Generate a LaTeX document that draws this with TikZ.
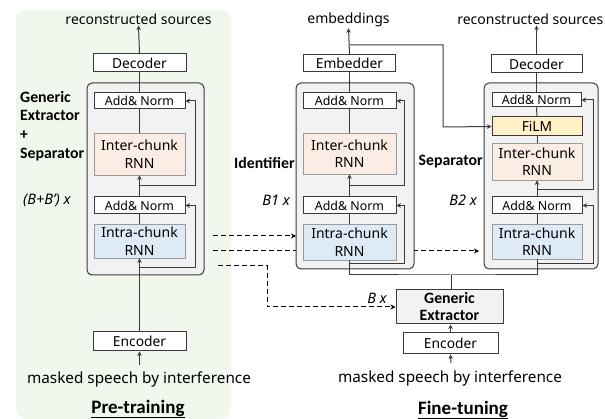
\documentclass[tikz,border=0pt]{standalone}
\usepackage{fontspec}
\setmainfont{Noto Sans}
\newfontfamily\boldfam{Carlito}
\usetikzlibrary{arrows.meta}
\definecolor{bggreen}{HTML}{F0F7EC}
\definecolor{outerfill}{HTML}{F2F2F2}
\definecolor{peach}{HTML}{FBEDE4}
\definecolor{lblue}{HTML}{DEEAF6}
\definecolor{filmy}{HTML}{FFF0C6}
\definecolor{edge}{HTML}{3A3A3A}
\definecolor{softedge}{HTML}{9A9A9A}
\tikzset{
  wbox/.style={draw=edge,fill=white,line width=1pt,inner sep=0pt,font=\fontsize{13.8}{15}\selectfont},
  anbox/.style={draw=edge,fill=white,line width=1pt,inner sep=0pt,font=\fontsize{12.4}{13}\selectfont},
  interbox/.style={draw=softedge,fill=peach,line width=0.8pt,inner sep=0pt,align=center,font=\fontsize{14}{17.5}\selectfont},
  intrabox/.style={draw=softedge,fill=lblue,line width=0.8pt,inner sep=0pt,align=center,font=\fontsize{14}{17.5}\selectfont},
  filmbox/.style={draw=edge,fill=filmy,line width=1pt,inner sep=0pt,font=\fontsize{13.8}{15}\selectfont},
  outerbox/.style={draw=edge,fill=outerfill,line width=1pt,rounded corners=5pt},
  arr/.style={-{Stealth[length=4.5pt,width=4.5pt]},line width=1pt,draw=edge},
  ln/.style={line width=1pt,draw=edge},
  darr/.style={-{Stealth[length=5pt,width=5pt]},line width=1pt,dash pattern=on 5pt off 3pt},
  toplab/.style={font=\fontsize{14}{15}\selectfont,inner sep=0pt},
  botlab/.style={font=\fontsize{15.3}{17}\selectfont,inner sep=0pt},
  blab/.style={font=\boldfam\bfseries\fontsize{15.8}{18.7}\selectfont,inner sep=0pt,align=left},
  title/.style={font=\boldfam\bfseries\fontsize{19}{21}\selectfont,inner sep=0pt},
  ilab/.style={font=\itshape\fontsize{14.5}{16}\selectfont,inner sep=0pt},
}
\begin{document}
\begin{tikzpicture}[x=1pt,y=-1pt]
\useasboundingbox (0,0) rectangle (605,419);
% background
\fill[bggreen,rounded corners=10pt] (16,10) rectangle (231,419);

% dashed connectors (behind boxes)
\coordinate (d1s) at (213,236);
\coordinate (d2s) at (213,251);
\coordinate (d3s) at (218,266);
\coordinate (d3m) at (267,307);

% ---------- Pre-training column ----------
\draw[outerbox] (87,83) rectangle (204,275);
\node[wbox,minimum width=93pt,minimum height=18pt] (dec1) at (139.5,63) {Decoder};
\node[anbox,minimum width=91pt,minimum height=16pt] (an1a) at (139.5,101) {Add\& Norm};
\node[interbox,minimum width=91pt,minimum height=42pt] (inter1) at (139.5,154) {Inter-chunk\\RNN};
\node[anbox,minimum width=91pt,minimum height=17pt] (an1b) at (139.5,205.5) {Add\& Norm};
\node[intrabox,minimum width=91pt,minimum height=34pt] (intra1) at (139.5,241) {Intra-chunk\\RNN};
\node[wbox,minimum width=93pt,minimum height=19pt] (enc1) at (139.5,341.5) {Encoder};
\node[toplab] (rs1) at (138.5,19) {reconstructed sources};
\node[botlab] (ms1) at (139,379) {masked speech by interference};
\node[title] (pt) at (138,409) {\underline{Pre-training}};
\node[blab,anchor=west] (gl) at (20,126) {Generic\\Extractor\\+\\Separator};
\node[ilab,anchor=west] (bb) at (23,200) {(B+B') x};
\coordinate (in1) at (139.5,365);
\coordinate (r1a) at (139.5,186);
\coordinate (r1b) at (139.5,268);
\draw[arr] (in1) -- (enc1.south);
\draw[arr] (enc1.north) -- (intra1.south);
\draw[ln] (intra1.north) -- (an1b.south);
\draw[arr] (an1b.north) -- (inter1.south);
\draw[ln] (inter1.north) -- (an1a.south);
\draw[ln] (an1a.north) -- (dec1.south);
\draw[arr] (dec1.north) -- ([yshift=-1pt]rs1.south);
\draw[arr] (r1a) -- (195,186) |- (an1a.east);
\draw[arr] (r1b) -- (195,268) |- (an1b.east);

% ---------- Identifier column ----------
\draw[darr] (d2s) -- (479,251);
\draw[outerbox] (296,83) rectangle (414,269);
\node[wbox,minimum width=92pt,minimum height=17pt] (emb) at (349.5,63) {Embedder};
\node[anbox,minimum width=93pt,minimum height=16pt] (an2a) at (349.5,101) {Add\& Norm};
\node[interbox,minimum width=93pt,minimum height=41pt] (inter2) at (349.5,153.5) {Inter-chunk\\RNN};
\node[anbox,minimum width=93pt,minimum height=17pt] (an2b) at (349.5,205.5) {Add\& Norm};
\node[intrabox,minimum width=93pt,minimum height=36pt] (intra2) at (349.5,242) {Intra-chunk\\RNN};
\node[toplab] (embt) at (348.5,20) {embeddings};
\node[blab,anchor=east] (idl) at (295,163) {Identifier};
\node[ilab,anchor=east] (b1) at (290,200) {B1 x};
\coordinate (r2a) at (349.5,186);
\coordinate (r2b) at (349.5,264);
\draw[ln] (intra2.north) -- (an2b.south);
\draw[arr] (an2b.north) -- (inter2.south);
\draw[ln] (inter2.north) -- (an2a.south);
\draw[ln] (an2a.north) -- (emb.south);
\draw[arr] (emb.north) -- ([yshift=-1pt]embt.south);
\draw[arr] (r2a) -- (404,186) |- (an2a.east);
\draw[arr] (r2b) -- (404,264) |- (an2b.east);

% ---------- Separator column ----------
\draw[outerbox] (484,83) rectangle (598,269);
\node[wbox,minimum width=91pt,minimum height=18pt] (dec3) at (536.5,64) {Decoder};
\node[anbox,minimum width=89pt,minimum height=14pt] (an3a) at (536.5,100) {Add\& Norm};
\node[filmbox,minimum width=90pt,minimum height=19pt] (film) at (537,126.5) {FiLM};
\node[interbox,minimum width=90pt,minimum height=37pt] (inter3) at (537,161.5) {Inter-chunk\\RNN};
\node[anbox,minimum width=90pt,minimum height=17pt] (an3b) at (537,205.5) {Add\& Norm};
\node[intrabox,minimum width=90pt,minimum height=35pt] (intra3) at (537,241.5) {Intra-chunk\\RNN};
\node[toplab,anchor=east] (rs3) at (603.5,19) {reconstructed sources};
\node[blab,anchor=east] (sepl) at (483,162) {Separator};
\node[ilab,anchor=east] (b2) at (477,200) {B2 x};
\coordinate (r3a) at (537,190);
\coordinate (r3b) at (537,264);
\draw[ln] (intra3.north) -- (an3b.south);
\draw[arr] (an3b.north) -- (inter3.south);
\draw[ln] (inter3.north) -- (film.south);
\draw[ln] (film.north) -- (an3a.south);
\draw[ln] (an3a.north) -- (dec3.south);
\draw[arr] (dec3.north) -- ([yshift=-1pt]dec3.north |- rs3.south);
\draw[arr] (r3a) -- (593,190) |- (an3a.east);
\draw[arr] (r3b) -- (593,264) |- (an3b.east);

% embeddings branch to FiLM
\coordinate (br) at (349.5,45);
\draw[arr] (br) -| (443,127) -- (film.west);

% ---------- Generic extractor ----------
\node[draw=edge,fill=outerfill,line width=1pt,minimum width=107pt,minimum height=34pt,inner sep=0pt,align=center,font=\boldfam\bfseries\fontsize{15.8}{17}\selectfont] (ge) at (449.5,307) {Generic\\Extractor};
\node[wbox,minimum width=95pt,minimum height=21pt] (enc2) at (450.5,343.5) {Encoder};
\node[botlab] (ms2) at (450,378) {masked speech by interference};
\node[title] (ft) at (463,410) {\underline{Fine-tuning}};
\node[ilab] (bx) at (377,298) {B x};
\coordinate (in2) at (451,363);
\draw[arr] (in2) -- (enc2.south);
\draw[arr] (enc2.north) -- (enc2.north |- ge.south);
\coordinate (j) at (451,275);
\draw[ln] (ge.north -| j) -- (j);
\draw[ln] (intra2.south) |- (j) -| (intra3.south);

% dashed arrows
\draw[darr] (d1s) -- (296,236);
\draw[darr] (d3s) -| (d3m) -- (ge.west |- d3m);
\end{tikzpicture}
\end{document}
